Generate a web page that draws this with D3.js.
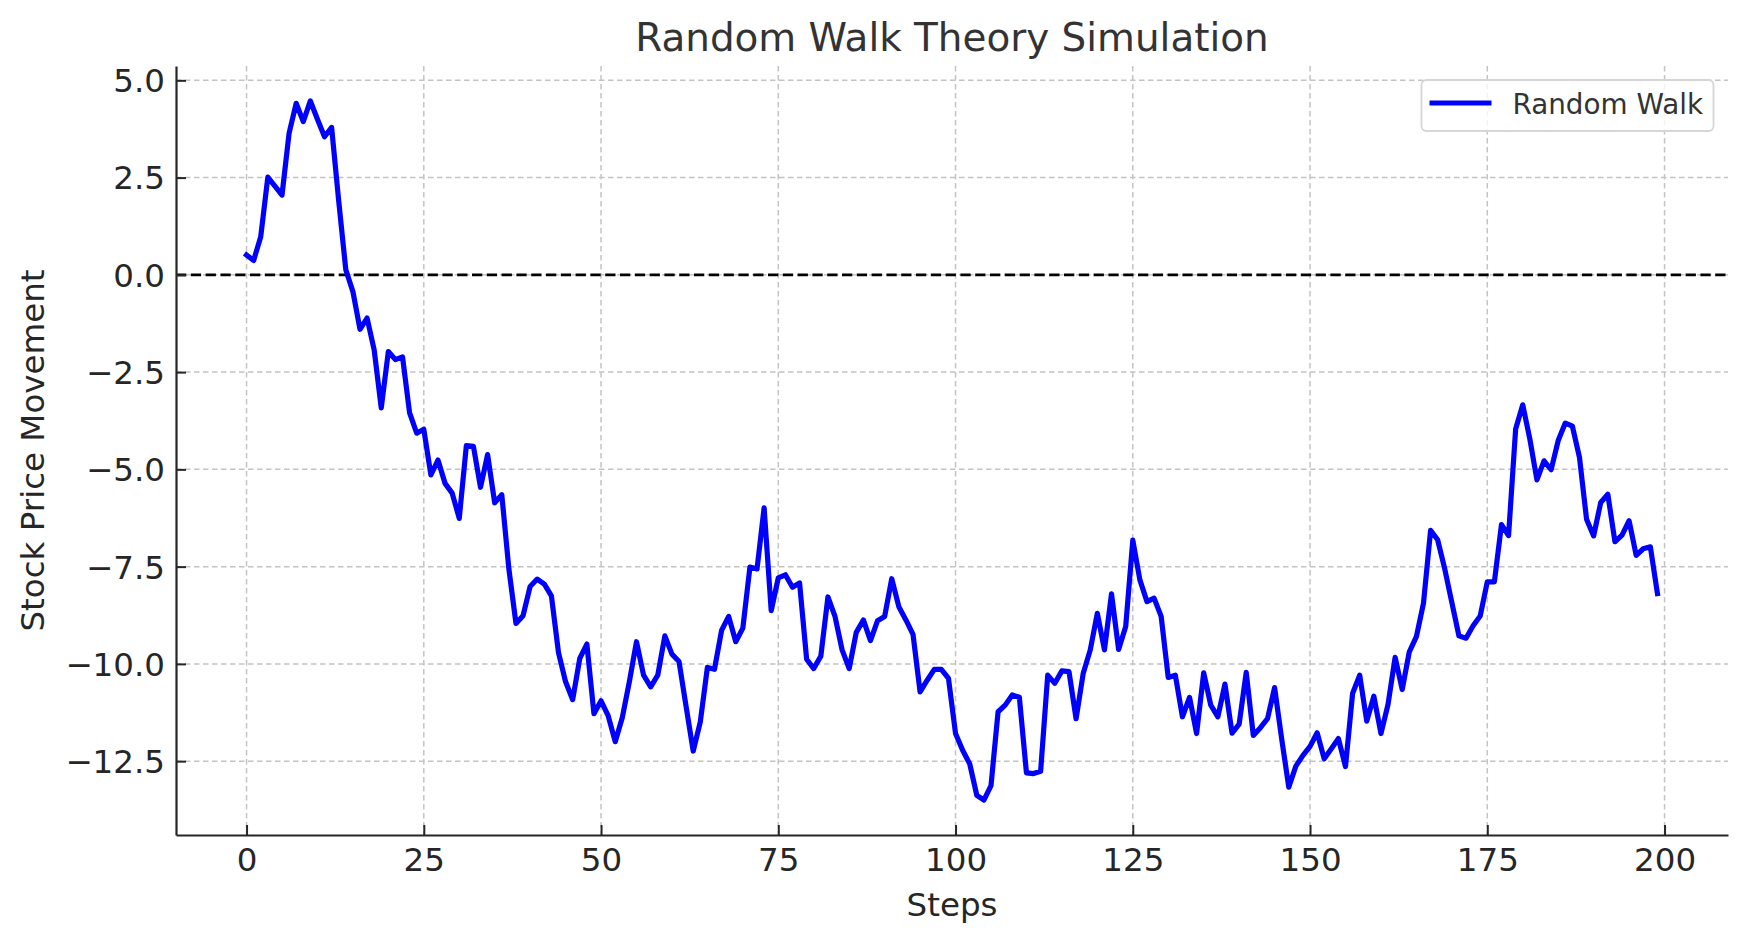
<!DOCTYPE html>
<html>
<head>
<meta charset="utf-8">
<script src="https://cdn.jsdelivr.net/npm/d3@7"></script>
<style>
  body { margin: 0; background: #fff; }
  svg { display: block; font-family: "DejaVu Sans", sans-serif; }
</style>
</head>
<body>
<svg id="chart" width="1746" height="943"></svg>
<script>
// random walk values, one per step
const walk = [
  0.51, 0.37, 0.98, 2.51, 2.28, 2.05, 3.64, 4.41, 3.94, 4.47,
  4.00, 3.55, 3.79, 1.90, 0.13, -0.43, -1.40, -1.11, -1.93, -3.42,
  -1.97, -2.18, -2.11, -3.55, -4.07, -3.97, -5.14, -4.76, -5.36, -5.61,
  -6.26, -4.39, -4.41, -5.46, -4.62, -5.86, -5.65, -7.56, -8.96, -8.76,
  -8.01, -7.82, -7.95, -8.25, -9.71, -10.46, -10.92, -9.86, -9.49, -11.28,
  -10.95, -11.33, -12.00, -11.38, -10.45, -9.43, -10.29, -10.59, -10.29, -9.28,
  -9.75, -9.94, -11.10, -12.24, -11.49, -10.09, -10.14, -9.14, -8.78, -9.43,
  -9.08, -7.51, -7.56, -5.99, -8.63, -7.79, -7.71, -8.03, -7.92, -9.88,
  -10.12, -9.80, -8.28, -8.78, -9.64, -10.12, -9.19, -8.87, -9.40, -8.89,
  -8.78, -7.81, -8.53, -8.87, -9.24, -10.72, -10.42, -10.14, -10.14, -10.37,
  -11.79, -12.22, -12.57, -13.38, -13.50, -13.13, -11.23, -11.06, -10.80, -10.86,
  -12.80, -12.82, -12.76, -10.29, -10.50, -10.18, -10.20, -11.41, -10.25, -9.64,
  -8.70, -9.64, -8.20, -9.63, -9.04, -6.82, -7.84, -8.40, -8.31, -8.78,
  -10.35, -10.29, -11.36, -10.86, -11.79, -10.23, -11.06, -11.36, -10.52, -11.78,
  -11.55, -10.22, -11.84, -11.64, -11.41, -10.61, -11.93, -13.17, -12.63, -12.35,
  -12.12, -11.77, -12.44, -12.18, -11.92, -12.64, -10.76, -10.29, -11.47, -10.83,
  -11.79, -11.04, -9.83, -10.66, -9.69, -9.30, -8.44, -6.57, -6.81, -7.56,
  -8.42, -9.28, -9.34, -9.02, -8.77, -7.89, -7.89, -6.42, -6.70, -3.96,
  -3.34, -4.22, -5.27, -4.78, -5.01, -4.26, -3.81, -3.89, -4.69, -6.28,
  -6.71, -5.85, -5.64, -6.86, -6.69, -6.32, -7.21, -7.04, -6.99, -8.19
]
const steps = walk.map((d, i) => i)
const xTicks = [0, 25, 50, 75, 100, 125, 150, 175, 200]
const yTicks = [-12.5, -10, -7.5, -5, -2.5, 0, 2.5, 5]
const seriesName = 'Random Walk'

const svg = d3.select('#chart')
const plotLeft = 176, plotRight = 1728, plotTop = 66, plotBottom = 835

// matplotlib style 5% padding around the data
const xPad = (d3.max(steps) - d3.min(steps)) * 0.05
const [yMin, yMax] = d3.extent(walk)
const yPad = (yMax - yMin) * 0.05
const x = d3.scaleLinear().domain([d3.min(steps) - xPad, d3.max(steps) + xPad]).range([plotLeft, plotRight])
const y = d3.scaleLinear().domain([yMin - yPad, yMax + yPad]).range([plotBottom, plotTop])

// grid
const grid = svg.append('g')
  .attr('stroke', '#c4c4c4')
  .attr('stroke-width', 1.5)
  .attr('stroke-dasharray', '5.5,3.5')
grid.selectAll('.gx').data(xTicks).join('line')
  .attr('class', 'gx')
  .attr('x1', d => x(d)).attr('x2', d => x(d))
  .attr('y1', plotTop).attr('y2', plotBottom)
grid.selectAll('.gy').data(yTicks).join('line')
  .attr('class', 'gy')
  .attr('x1', plotLeft).attr('x2', plotRight)
  .attr('y1', d => y(d)).attr('y2', d => y(d))

// zero reference line
svg.append('line')
  .attr('x1', plotLeft).attr('x2', plotRight)
  .attr('y1', y(0)).attr('y2', y(0))
  .attr('stroke', '#000')
  .attr('stroke-width', 2.8)
  .attr('stroke-dasharray', '10.3,4.5')

// the walk
const line = d3.line().x((d, i) => x(steps[i])).y(d => y(d))
svg.append('path')
  .datum(walk)
  .attr('d', line)
  .attr('fill', 'none')
  .attr('stroke', '#0000ff')
  .attr('stroke-width', 5.2)
  .attr('stroke-linejoin', 'round')
  .attr('stroke-linecap', 'square')

// axes, ticks pointing inward
const xAxis = svg.append('g')
  .attr('transform', `translate(0,${plotBottom})`)
  .call(d3.axisBottom(x).tickValues(xTicks).tickFormat(d3.format('d')).tickSizeInner(-10).tickSizeOuter(0).tickPadding(13))
const yAxis = svg.append('g')
  .attr('transform', `translate(${plotLeft},0)`)
  .call(d3.axisLeft(y).tickValues(yTicks).tickFormat(d3.format('.1f')).tickSizeInner(-10).tickSizeOuter(0).tickPadding(11))

for (const ax of [xAxis, yAxis]) {
  ax.attr('font-family', '"DejaVu Sans", sans-serif').attr('font-size', 32.5)
  ax.select('.domain').attr('stroke', '#262626').attr('stroke-width', 2.2)
  ax.selectAll('.tick line').attr('stroke', '#262626').attr('stroke-width', 2)
  ax.selectAll('.tick text').attr('fill', '#262626')
}
yAxis.selectAll('.tick text').attr('dy', '0.35em')

// titles
svg.append('text')
  .attr('x', (plotLeft + plotRight) / 2).attr('y', 51)
  .attr('text-anchor', 'middle')
  .attr('font-size', 38.9)
  .attr('fill', '#333')
  .text('Random Walk Theory Simulation')
svg.append('text')
  .attr('x', (plotLeft + plotRight) / 2).attr('y', 916)
  .attr('text-anchor', 'middle')
  .attr('font-size', 32.5)
  .attr('fill', '#262626')
  .text('Steps')
svg.append('text')
  .attr('transform', `translate(44,${(plotTop + plotBottom) / 2}) rotate(-90)`)
  .attr('text-anchor', 'middle')
  .attr('font-size', 32.5)
  .attr('fill', '#262626')
  .text('Stock Price Movement')

// legend
const legend = svg.append('g').attr('transform', `translate(${plotRight - 14.5},${plotTop + 14})`)
legend.append('rect')
  .attr('x', -292).attr('y', 0)
  .attr('width', 292).attr('height', 51)
  .attr('rx', 5)
  .attr('fill', '#fff').attr('fill-opacity', 0.8)
  .attr('stroke', '#d6d6d6').attr('stroke-width', 1.8)
legend.append('line')
  .attr('x1', -284).attr('x2', -222)
  .attr('y1', 23).attr('y2', 23)
  .attr('stroke', '#0000ff').attr('stroke-width', 5.2)
legend.append('text')
  .attr('x', -201).attr('y', 34)
  .attr('font-size', 27.8)
  .attr('fill', '#333')
  .text(seriesName)
</script>
</body>
</html>
